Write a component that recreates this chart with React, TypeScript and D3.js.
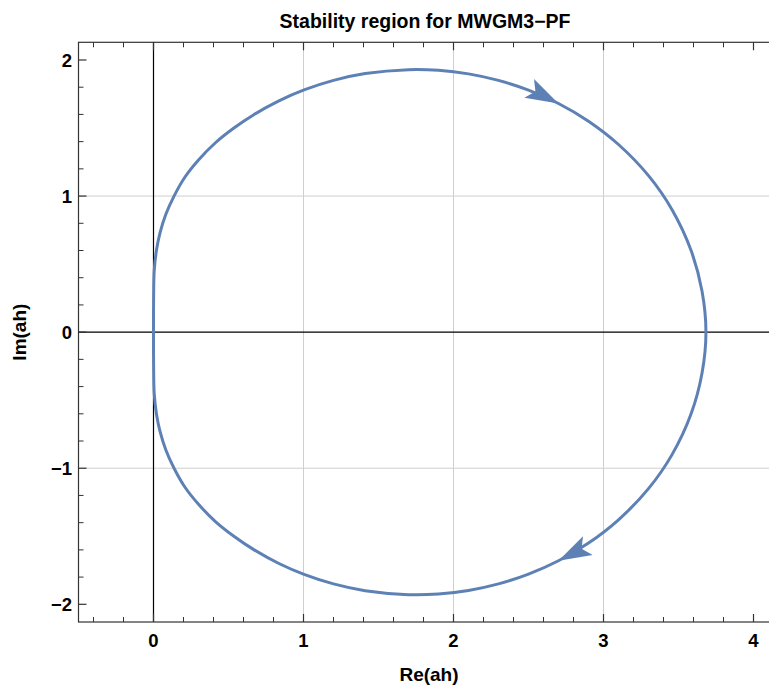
import React from "react";
import * as d3 from "d3";

// Boundary locus (traversed clockwise from the origin)
const upperRe = [0, 0.0007, 0.005, 0.02, 0.043, 0.083, 0.137, 0.21, 0.3, 0.411, 0.536, 0.671, 0.836, 1.004, 1.2, 1.411, 1.7, 1.9, 2.1, 2.3, 2.5, 2.7, 2.9, 3.1, 3.3, 3.457, 3.584, 3.657, 3.683];
const upperIm = [0, 0.235, 0.456, 0.603, 0.728, 0.868, 1.0, 1.14, 1.265, 1.39, 1.5, 1.6, 1.7, 1.78, 1.85, 1.9, 1.929, 1.924, 1.898, 1.85, 1.778, 1.68, 1.55, 1.379, 1.15, 0.9, 0.6, 0.3, 0];
const lowerRe = [3.683, 3.657, 3.584, 3.457, 3.3, 3.1, 2.9, 2.7, 2.5, 2.3, 2.1, 1.9, 1.7, 1.411, 1.2, 1.004, 0.836, 0.671, 0.536, 0.411, 0.3, 0.21, 0.137, 0.083, 0.043, 0.02, 0.005, 0.0007, 0];
const lowerIm = [0, -0.3, -0.6, -0.9, -1.15, -1.379, -1.55, -1.68, -1.778, -1.85, -1.898, -1.924, -1.929, -1.9, -1.85, -1.78, -1.7, -1.6, -1.5, -1.39, -1.265, -1.14, -1.0, -0.868, -0.728, -0.603, -0.456, -0.235, 0];

// arrowheads sit on these path points: upper (2.7, 1.68) and lower (2.7, -1.68)
const arrowUpperIndex = 21;
const arrowLowerIndex = 7;

const xTicks = [0, 1, 2, 3, 4];
const yTicks = [-2, -1, 0, 1, 2];
const xGrid = [1, 2, 3];
const yGrid = [-1, 1];
const title = "Stability region for MWGM3\u2212PF";
const xLabel = "Re(ah)";
const yLabel = "Im(ah)";

const W = 769;
const H = 688;
const left = 78.5;
const right = 776;
const top = 42.3;
const bottom = 622;

const fmt = (v: number) => (v < 0 ? "\u2212" + Math.abs(v) : String(v));

export default function App() {
  const x = d3.scaleLinear().domain([-0.5, 4.15]).range([left, right]);
  const y = d3.scaleLinear().domain([-2.13, 2.13]).range([bottom, top]);

  const pts: [number, number][] = [];
  upperRe.forEach((r, i) => pts.push([r, upperIm[i]]));
  const nUpper = pts.length;
  lowerRe.forEach((r, i) => { if (i > 0) pts.push([r, lowerIm[i]]); });

  const line = d3
    .line<[number, number]>()
    .x((d) => x(d[0]))
    .y((d) => y(d[1]))
    .curve(d3.curveCatmullRom.alpha(0.5));

  const minorX = d3.range(-0.4, 4.15, 0.2).map((v) => Math.round(v * 10) / 10).filter((v) => Math.abs(v - Math.round(v)) > 1e-6);
  const minorY = d3.range(-2.0, 2.01, 0.2).map((v) => Math.round(v * 10) / 10).filter((v) => Math.abs(v - Math.round(v)) > 1e-6);

  const color = "#5E81B5";
  const frameColor = "#333";
  const font = "'Liberation Sans', Arial, sans-serif";

  const arrowIdx = [arrowUpperIndex, nUpper - 1 + arrowLowerIndex];
  const arrows = arrowIdx.map((i) => {
    const p = pts[i];
    const a = pts[i - 1];
    const b = pts[i + 1];
    const dx = x(b[0]) - x(a[0]);
    const dy = y(b[1]) - y(a[1]);
    const ang = (Math.atan2(dy, dx) * 180) / Math.PI;
    return { px: x(p[0]), py: y(p[1]), ang };
  });

  return (
    <svg width={W} height={H} style={{ position: "absolute", left: 0, top: 0, background: "#fff" }}>
      <defs>
        <clipPath id="plotclip">
          <rect x={left} y={top} width={right - left} height={bottom - top} />
        </clipPath>
      </defs>
      <rect x={0} y={0} width={W} height={H} fill="#fff" />
      {xGrid.map((v) => (
        <line key={"gx" + v} x1={x(v)} x2={x(v)} y1={top} y2={bottom} stroke="#cfcfcf" strokeWidth={1} />
      ))}
      {yGrid.map((v) => (
        <line key={"gy" + v} x1={left} x2={right} y1={y(v)} y2={y(v)} stroke="#cfcfcf" strokeWidth={1} />
      ))}
      <line x1={x(0)} x2={x(0)} y1={top} y2={bottom} stroke="#000" strokeWidth={1.2} />
      <line x1={left} x2={right} y1={y(0)} y2={y(0)} stroke="#000" strokeWidth={1.2} />
      <g clipPath="url(#plotclip)">
        <path d={line(pts) || ""} fill="none" stroke={color} strokeWidth={3} strokeLinejoin="round" />
        {arrows.map((a, i) => (
          <polygon
            key={"ar" + i}
            points="0,0 -33,-10.5 -26,0 -33,10.5"
            fill={color}
            transform={`translate(${a.px},${a.py}) rotate(${a.ang})`}
          />
        ))}
      </g>
      <rect x={left} y={top} width={right - left} height={bottom - top} fill="none" stroke={frameColor} strokeWidth={1.2} />
      {xTicks.map((v) => (
        <g key={"xt" + v}>
          <line x1={x(v)} x2={x(v)} y1={bottom} y2={bottom - 8} stroke={frameColor} strokeWidth={1.2} />
          <line x1={x(v)} x2={x(v)} y1={top} y2={top + 8} stroke={frameColor} strokeWidth={1.2} />
          <text x={x(v)} y={647} textAnchor="middle" fontFamily={font} fontWeight="bold" fontSize={18.5}>
            {fmt(v)}
          </text>
        </g>
      ))}
      {minorX.map((v) => (
        <g key={"xm" + v}>
          <line x1={x(v)} x2={x(v)} y1={bottom} y2={bottom - 5} stroke={frameColor} strokeWidth={1} />
          <line x1={x(v)} x2={x(v)} y1={top} y2={top + 5} stroke={frameColor} strokeWidth={1} />
        </g>
      ))}
      {yTicks.map((v) => (
        <g key={"yt" + v}>
          <line x1={left} x2={left + 8} y1={y(v)} y2={y(v)} stroke={frameColor} strokeWidth={1.2} />
          <text x={72} y={y(v)} dy="0.36em" textAnchor="end" fontFamily={font} fontWeight="bold" fontSize={18.5}>
            {fmt(v)}
          </text>
        </g>
      ))}
      {minorY.map((v) => (
        <line key={"ym" + v} x1={left} x2={left + 5} y1={y(v)} y2={y(v)} stroke={frameColor} strokeWidth={1} />
      ))}
      <text x={429} y={681} textAnchor="middle" fontFamily={font} fontWeight="bold" fontSize={19}>
        {xLabel}
      </text>
      <text
        transform={`translate(26,${(top + bottom) / 2}) rotate(-90)`}
        textAnchor="middle"
        fontFamily={font}
        fontWeight="bold"
        fontSize={19}
      >
        {yLabel}
      </text>
      <text x={425} y={28} textAnchor="middle" fontFamily={font} fontWeight="bold" fontSize={19.5}>
        {title}
      </text>
    </svg>
  );
}
